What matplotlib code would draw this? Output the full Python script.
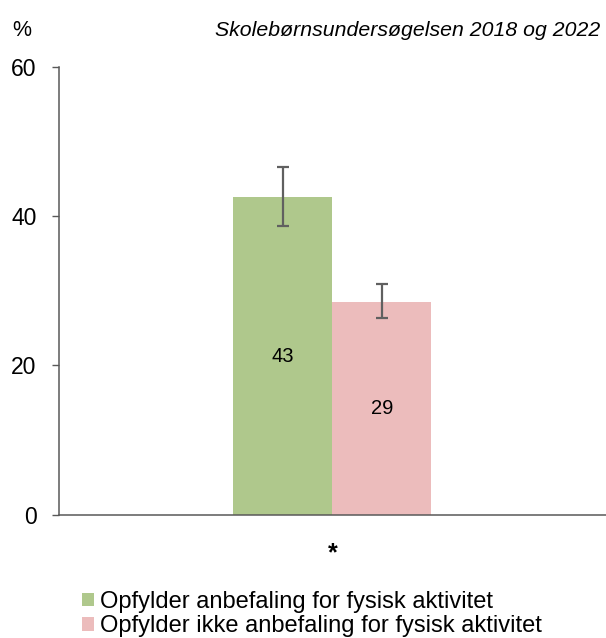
import matplotlib
matplotlib.use('Agg')
import matplotlib.pyplot as plt
from matplotlib.patches import Patch

plt.rcParams['font.family'] = ['Liberation Sans', 'DejaVu Sans']

categories = ['Opfylder anbefaling for fysisk aktivitet',
              'Opfylder ikke anbefaling for fysisk aktivitet']
values = [42.5, 28.5]
labels = ['43', '29']
err_low = [38.6, 26.4]
err_high = [46.6, 30.9]
colors = ['#AFC88C', '#ECBCBC']
group_label = '*'
yticks = [0, 20, 40, 60]

fig = plt.figure(figsize=(6.06, 6.38), dpi=100)
ax = fig.add_axes([0.0969, 0.1933, 0.9031, 0.7022])

width = 0.181
offsets = [-width / 2, width / 2]
for off, v, lo, hi, c, lab in zip(offsets, values, err_low, err_high, colors, labels):
    ax.bar(off, v, width=width, color=c, linewidth=0)
    ax.errorbar(off, v, yerr=[[v - lo], [hi - v]], fmt='none',
                ecolor='#606060', elinewidth=1.6, capsize=4.3, capthick=1.6)
    ax.text(off, v / 2, lab, ha='center', va='center', fontsize=14.5, color='black')

ax.set_xlim(-0.5, 0.5)
ax.set_ylim(0, 60)
ax.set_yticks(yticks)
ax.set_xticks([0])
ax.set_xticklabels([group_label], fontsize=18, fontweight='bold')
ax.tick_params(axis='x', length=0, pad=19)
ax.tick_params(axis='y', direction='out', length=5, width=1, color='#595959',
               labelsize=16.5, pad=11)

for s in ['top', 'right']:
    ax.spines[s].set_visible(False)
for s in ['left', 'bottom']:
    ax.spines[s].set_color('#595959')
    ax.spines[s].set_linewidth(1.1)

fig.text(12 / 606, 1 - 30 / 638, '%', fontsize=15.5, ha='left', va='center')
fig.text(600 / 606, 1 - 30 / 638, 'Skolebørnsundersøgelsen 2018 og 2022',
         fontsize=15.3, style='italic', ha='right', va='center')

handles = [Patch(facecolor=c, edgecolor='none') for c in colors]
fig.legend(handles, categories, loc='upper left', bbox_to_anchor=(70 / 606, 1 - 579 / 638),
           frameon=False, fontsize=17, handlelength=0.5, handleheight=0.5,
           handletextpad=0.25, labelspacing=0.1, borderpad=0)

fig.savefig('out.png', dpi=100)
